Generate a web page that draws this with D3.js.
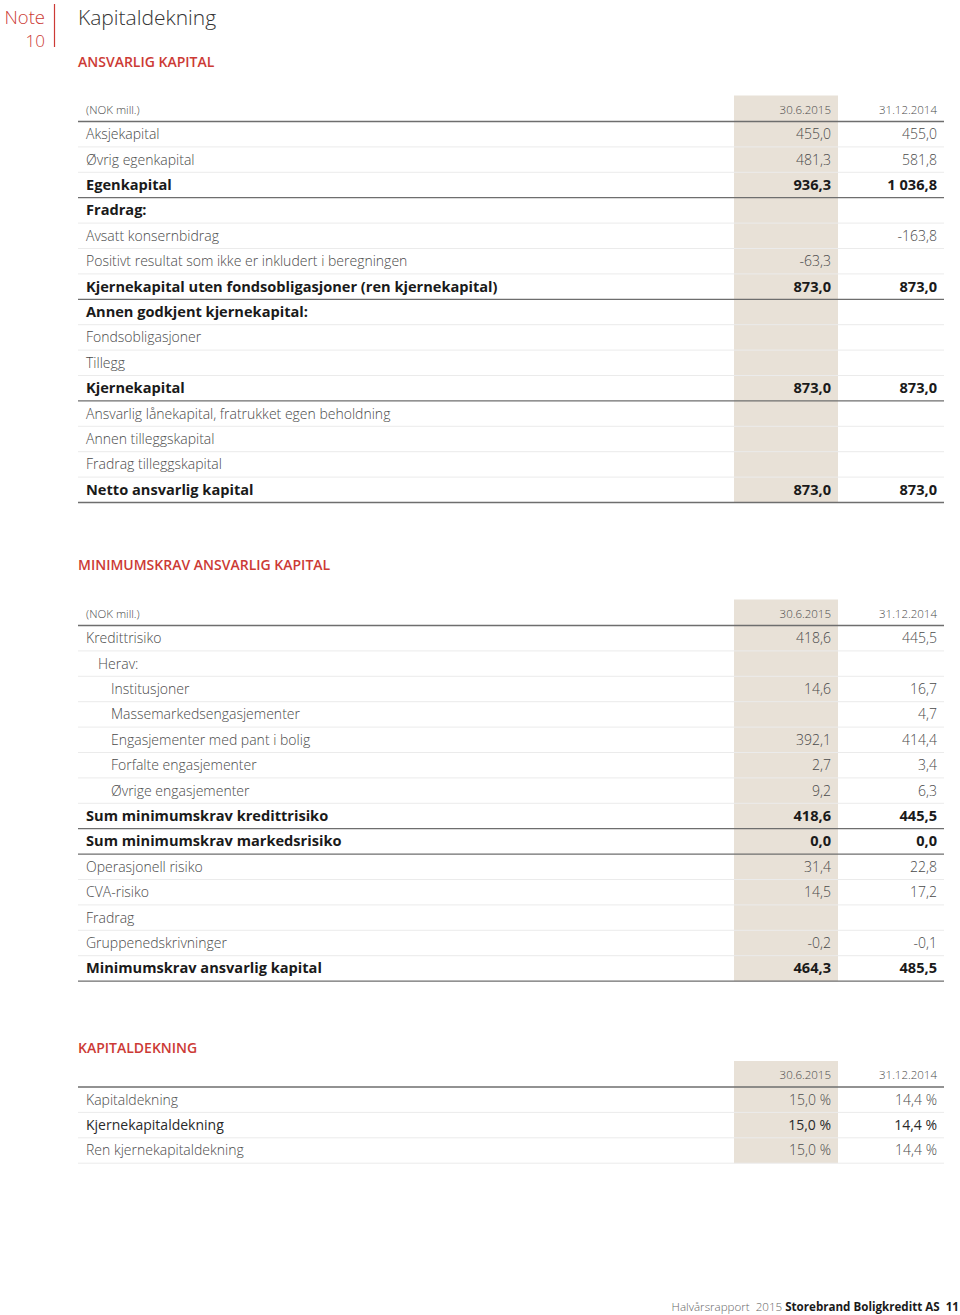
<!DOCTYPE html>
<html>
<head>
<meta charset="utf-8">
<script src="https://cdn.jsdelivr.net/npm/d3@7"></script>
<style>
  body { margin: 0; background: #fff; }
  svg { display: block; font-family: "Open Sans", sans-serif; }
</style>
</head>
<body>
<svg></svg>
<script>
const size = { w: 960, h: 1315 };
const cols = ["30.6.2015", "31.12.2014"];

// table 1: ansvarlig kapital
const t1Labels = [
	"Aksjekapital",
	"Øvrig egenkapital",
	"Egenkapital",
	"Fradrag:",
	"Avsatt konsernbidrag",
	"Positivt resultat som ikke er inkludert i beregningen",
	"Kjernekapital uten fondsobligasjoner (ren kjernekapital)",
	"Annen godkjent kjernekapital:",
	"Fondsobligasjoner",
	"Tillegg",
	"Kjernekapital",
	"Ansvarlig lånekapital, fratrukket egen beholdning",
	"Annen tilleggskapital",
	"Fradrag tilleggskapital",
	"Netto ansvarlig kapital",
];
const t1Types = ["n", "n", "s", "h", "n", "n", "s", "h", "n", "n", "s", "n", "n", "n", "s"];
const t1Jun = [455.0, 481.3, 936.3, null, null, -63.3, 873.0, null, null, null, 873.0, null, null, null, 873.0];
const t1Dec = [455.0, 581.8, 1036.8, null, -163.8, null, 873.0, null, null, null, 873.0, null, null, null, 873.0];

// table 2: minimumskrav
const t2Labels = [
	"Kredittrisiko",
	"Herav:",
	"Institusjoner",
	"Massemarkedsengasjementer",
	"Engasjementer med pant i bolig",
	"Forfalte engasjementer",
	"Øvrige engasjementer",
	"Sum minimumskrav kredittrisiko",
	"Sum minimumskrav markedsrisiko",
	"Operasjonell risiko",
	"CVA-risiko",
	"Fradrag",
	"Gruppenedskrivninger",
	"Minimumskrav ansvarlig kapital",
];
const t2Types = ["n", "n", "n", "n", "n", "n", "n", "s", "s", "n", "n", "n", "n", "s"];
const t2Indent = [0, 1, 2, 2, 2, 2, 2, 0, 0, 0, 0, 0, 0, 0];
const t2Jun = [418.6, null, 14.6, null, 392.1, 2.7, 9.2, 418.6, 0.0, 31.4, 14.5, null, -0.2, 464.3];
const t2Dec = [445.5, null, 16.7, 4.7, 414.4, 3.4, 6.3, 445.5, 0.0, 22.8, 17.2, null, -0.1, 485.5];

// table 3: kapitaldekning (%)
const t3Labels = ["Kapitaldekning", "Kjernekapitaldekning", "Ren kjernekapitaldekning"];
const t3Types = ["n", "d", "n"];
const t3Jun = [15.0, 15.0, 15.0];
const t3Dec = [14.4, 14.4, 14.4];

const red = "#cc3a35";
const noLocale = d3.formatLocale({ decimal: ",", thousands: " ", grouping: [3], currency: ["", ""], minus: "-" });
const fmtNum = noLocale.format(",.1f");
const fmtPct = (v) => noLocale.format(".1f")(v) + " %";

const svg = d3.select("svg").attr("width", size.w).attr("height", size.h);

// page header
const head = svg.append("g");
head.append("text").attr("x", 45).attr("y", 24).attr("text-anchor", "end")
	.attr("fill", red).attr("font-weight", 300).attr("font-size", 18.5).text("Note");
head.append("text").attr("x", 45).attr("y", 47).attr("text-anchor", "end")
	.attr("fill", red).attr("font-weight", 300).attr("font-size", 17).text("10");
head.append("line").attr("x1", 54.5).attr("x2", 54.5).attr("y1", 4).attr("y2", 47)
	.attr("stroke", red).attr("stroke-width", 1.2);
head.append("text").attr("x", 78).attr("y", 25).attr("fill", "#333")
	.attr("font-size", 21).attr("font-weight", 300).text("Kapitaldekning");

const xLeft = 78, xRight = 944;
const shade = { x0: 734, x1: 838 };
const valX = [831, 937];

function drawTable(opts) {
	const g = svg.append("g");
	const n = opts.labels.length;

	g.append("text").attr("x", 78).attr("y", opts.titleY + 5)
		.attr("fill", red).attr("font-size", 14).attr("font-weight", 600).text(opts.title);

	const yScale = d3.scaleBand()
		.domain(d3.range(n))
		.range([opts.top, opts.top + n * opts.rowH]);

	// shaded current column
	g.append("rect").attr("x", shade.x0).attr("width", shade.x1 - shade.x0)
		.attr("y", opts.top - 26).attr("height", n * opts.rowH + 26)
		.attr("fill", "#e8e1d7");

	// header row
	if (opts.unit) {
		g.append("text").attr("x", 86).attr("y", opts.top - 8)
			.attr("fill", "#4a4a4a").attr("font-size", 11.5).attr("font-weight", 300).text(opts.unit);
	}
	cols.forEach((c, i) => {
		g.append("text").attr("x", valX[i]).attr("y", opts.top - 8).attr("text-anchor", "end")
			.attr("fill", "#4a4a4a").attr("font-size", 11.5).attr("font-weight", 300).text(c);
	});
	g.append("line").attr("x1", xLeft).attr("x2", xRight)
		.attr("y1", opts.top).attr("y2", opts.top)
		.attr("stroke", "#6e6e6e").attr("stroke-width", 1.3);

	const rows = g.selectAll("g.row").data(d3.range(n)).join("g").classed("row", true)
		.attr("transform", (i) => `translate(0, ${yScale(i)})`);

	rows.append("line").attr("x1", xLeft).attr("x2", xRight)
		.attr("y1", opts.rowH).attr("y2", opts.rowH)
		.attr("stroke", (i) => opts.types[i] === "s" ? "#6e6e6e" : "#ebebeb")
		.attr("stroke-width", (i) => opts.types[i] === "s" ? 1.3 : 1);

	const bold = (i) => opts.types[i] === "s" || opts.types[i] === "h";
	const color = (i) => bold(i) ? "#1a1a1a" : opts.types[i] === "d" ? "#2a2a2a" : "#4a4a4a";
	const weight = (i) => bold(i) ? 700 : opts.types[i] === "d" ? 400 : 300;
	const fsize = (i) => bold(i) ? 14.6 : 14;
	const baseY = opts.rowH / 2 + 5;

	rows.append("text")
		.attr("x", (i) => 86 + (opts.indent ? [0, 12, 25][opts.indent[i]] : 0))
		.attr("y", baseY)
		.attr("fill", color).attr("font-weight", weight).attr("font-size", fsize)
		.text((i) => opts.labels[i]);

	[opts.jun, opts.dec].forEach((vals, c) => {
		rows.filter((i) => vals[i] != null).append("text")
			.attr("x", valX[c]).attr("y", baseY).attr("text-anchor", "end")
			.attr("fill", color).attr("font-weight", weight).attr("font-size", fsize)
			.text((i) => opts.fmt(vals[i]));
	});
}

drawTable({
	title: "ANSVARLIG KAPITAL", titleY: 62, unit: "(NOK mill.)",
	top: 121.5, rowH: 25.4,
	labels: t1Labels, types: t1Types, jun: t1Jun, dec: t1Dec, fmt: fmtNum,
});

drawTable({
	title: "MINIMUMSKRAV ANSVARLIG KAPITAL", titleY: 565, unit: "(NOK mill.)",
	top: 625.5, rowH: 25.4,
	labels: t2Labels, types: t2Types, indent: t2Indent, jun: t2Jun, dec: t2Dec, fmt: fmtNum,
});

drawTable({
	title: "KAPITALDEKNING", titleY: 1048, unit: null,
	top: 1087, rowH: 25.4,
	labels: t3Labels, types: t3Types, jun: t3Jun, dec: t3Dec, fmt: fmtPct,
});

// footer
const foot = svg.append("text").attr("x", 959).attr("y", 1311).attr("text-anchor", "end")
	.attr("font-size", 11.6).attr("xml:space", "preserve");
foot.append("tspan").attr("fill", "#666").attr("font-weight", 300).text("Halvårsrapport  2015 ");
foot.append("tspan").attr("fill", "#1a1a1a").attr("font-weight", 700).text("Storebrand Boligkreditt AS  11");
</script>
</body>
</html>
